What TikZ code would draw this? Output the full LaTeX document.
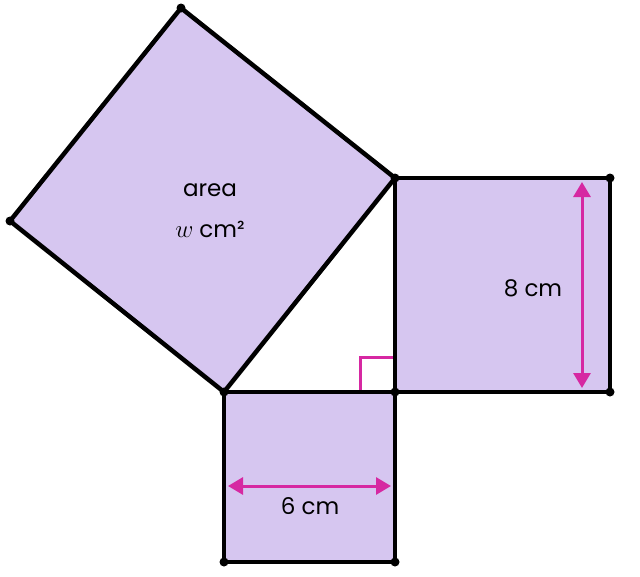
\documentclass[tikz,border=0pt]{standalone}
\usepackage{fontspec}
\setmainfont{Poppins}
\usetikzlibrary{arrows.meta}
\definecolor{sqfill}{RGB}{214,198,240}
\definecolor{dimpink}{RGB}{214,40,162}
\begin{document}
\begin{tikzpicture}[x=1pt,y=-1pt,
    side/.style={draw=black,fill=sqfill,line width=4.5pt,line join=round},
    dim/.style={dimpink,line width=3pt,{Triangle[length=15pt,width=17pt]}-{Triangle[length=15pt,width=17pt]}},
    lbl/.style={font=\fontsize{23}{27}\selectfont}]
  \useasboundingbox (0,0) rectangle (640,576);
  % triangle corners
  \coordinate (C) at (395,392);
  \coordinate (A) at (395,178);
  \coordinate (B) at (224,392);
  % outer corners of the squares
  \coordinate (b1) at (395,562); \coordinate (b2) at (224,562);
  \coordinate (r1) at (610,178); \coordinate (r2) at (610,392);
  \coordinate (h1) at (181,8);   \coordinate (h2) at (10,221);
  \draw[side] (B) -- (C) -- (b1) -- (b2) -- cycle;
  \draw[side] (A) -- (r1) -- (r2) -- (C) -- cycle;
  \draw[side] (B) -- (A) -- (h1) -- (h2) -- cycle;
  % right angle mark
  \coordinate (m1) at (360,392); \coordinate (m2) at (360,357); \coordinate (m3) at (395,357);
  \draw[dimpink,line width=3pt] (m1) -- (m2) -- (m3);
  \draw[line width=4.5pt] (B) -- (C) -- (A);
  \foreach \p in {A,B,C,b1,b2,r1,r2,h1,h2}
    \fill (\p) circle (4.5);
  % dimensions
  \coordinate (d1) at (228,486); \coordinate (d2) at (391,486);
  \coordinate (d3) at (582,182); \coordinate (d4) at (582,388);
  \draw[dim] (d1) -- (d2);
  \draw[dim] (d3) -- (d4);
  \node[lbl] (six) at (310,506) {6 cm};
  \node[lbl] (eight) at (533,288) {8 cm};
  \node[lbl] (area) at (210,190) {area};
  \node[lbl] (wcm) at (210,229) {{\fontsize{30}{30}\selectfont$w$} cm²};
\end{tikzpicture}
\end{document}
